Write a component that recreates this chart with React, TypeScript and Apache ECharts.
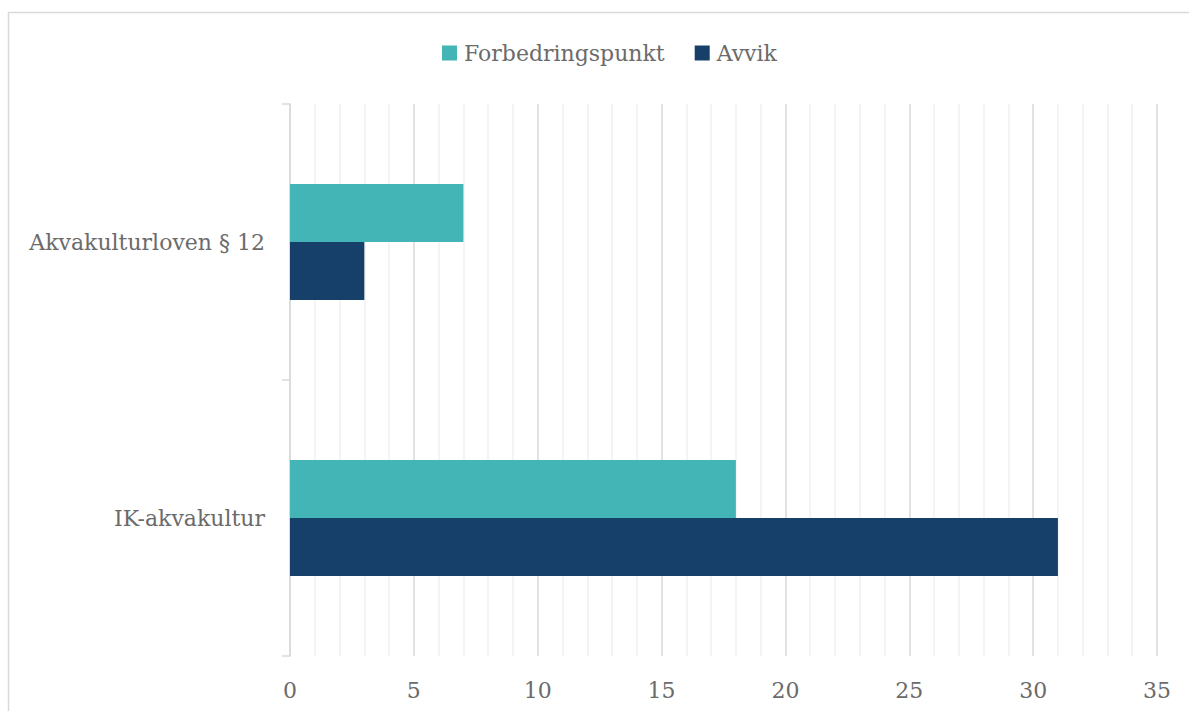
import React, { useEffect, useRef } from "react";
import * as echarts from "echarts";

const categories = ["Akvakulturloven § 12", "IK-akvakultur"];
const seriesNames = ["Forbedringspunkt", "Avvik"];
const forbedringspunkt = [7, 18];
const avvik = [3, 31];
const xTicks = { min: 0, max: 35, interval: 5 };

const FONT = "DejaVu Serif";
const TEXT = "#6b6b6b";
const FS = 22;

export default function App() {
  const ref = useRef<HTMLDivElement>(null);
  useEffect(() => {
    if (!ref.current) return;
    const chart = echarts.init(ref.current, null, { renderer: "svg" });
    chart.setOption({
      animation: false,
      backgroundColor: "#ffffff",
      textStyle: { fontFamily: FONT },
      graphic: [
        {
          type: "rect",
          shape: { x: 8.5, y: 12.5, width: 1300, height: 800 },
          style: { fill: "none", stroke: "#d9d9d9", lineWidth: 1.5 },
          silent: true,
          z: -1,
        },
      ],
      legend: {
        top: 37,
        left: 437,
        itemWidth: 15,
        itemHeight: 15,
        itemGap: 30,
        icon: "rect",
        textStyle: { fontFamily: FONT, fontSize: FS, color: TEXT, padding: [0, 0, 0, 2] },
        data: seriesNames,
      },
      grid: { left: 290, right: 32, top: 104, bottom: 55, containLabel: false },
      xAxis: {
        type: "value",
        min: xTicks.min,
        max: xTicks.max,
        interval: xTicks.interval,
        axisLine: { show: false },
        axisTick: { show: false },
        axisLabel: { fontFamily: FONT, fontSize: FS, color: TEXT, margin: 23 },
        splitLine: { show: true, lineStyle: { color: "#d9d9d9", width: 1.5 } },
        minorTick: { show: false, splitNumber: 5 },
        minorSplitLine: { show: true, lineStyle: { color: "#f0f0f0", width: 1.5 } },
      },
      yAxis: {
        type: "category",
        inverse: true,
        data: categories,
        axisLine: { show: true, lineStyle: { color: "#d9d9d9", width: 1.5 } },
        axisTick: { show: true, length: 8, lineStyle: { color: "#d9d9d9", width: 1.5 } },
        axisLabel: { fontFamily: FONT, fontSize: FS, color: TEXT, margin: 25 },
        splitLine: { show: false },
      },
      series: [
        {
          name: seriesNames[0],
          type: "bar",
          data: forbedringspunkt,
          itemStyle: { color: "#43b5b6" },
          barGap: "0%",
          barCategoryGap: "58%",
        },
        {
          name: seriesNames[1],
          type: "bar",
          data: avvik,
          itemStyle: { color: "#163f6a" },
          barGap: "0%",
          barCategoryGap: "58%",
        },
      ],
    });
    return () => chart.dispose();
  }, []);
  return (
    <div
      ref={ref}
      style={{ position: "fixed", left: 0, top: 0, width: 1189, height: 711 }}
    />
  );
}
